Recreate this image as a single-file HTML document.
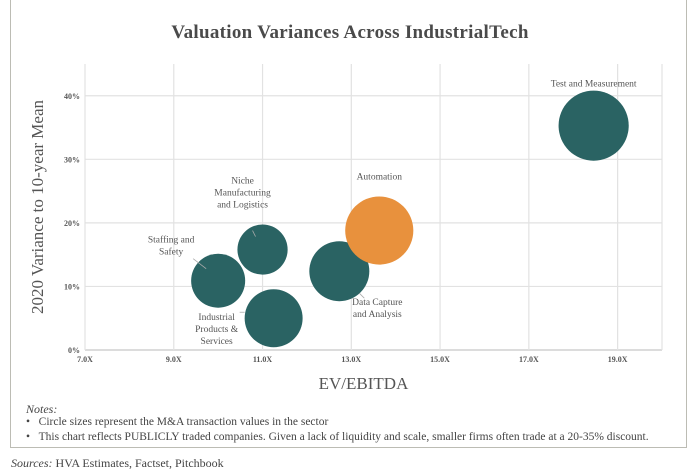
<!DOCTYPE html>
<html><head><meta charset="utf-8"><style>
body{margin:0;background:#fff;font-family:"Liberation Serif",serif;}
#wrap{position:relative;width:700px;height:474px;overflow:hidden;}
#frame{position:absolute;left:10px;top:-2px;width:677px;height:450px;border:1.5px solid #bcbcb4;box-sizing:border-box;}
.t{position:absolute;color:#444;}
</style></head><body>
<div id="wrap">
<div id="frame"></div>
<div class="t" style="left:0;width:700px;top:22px;text-align:center;font-size:19px;font-weight:bold;color:#4a4a4a;letter-spacing:0.3px">Valuation Variances Across IndustrialTech</div>
<svg id="chart" width="700" height="474" style="position:absolute;left:0;top:0"></svg>
<div class="t" style="left:26px;top:402px;font-size:12px;font-style:italic">Notes:</div>
<div class="t" style="left:26px;top:416px;font-size:11.5px">•&nbsp;&nbsp;&nbsp;Circle sizes represent the M&amp;A transaction values in the sector</div>
<div class="t" style="left:26px;top:431px;font-size:11.5px">•&nbsp;&nbsp;&nbsp;This chart reflects PUBLICLY traded companies. Given a lack of liquidity and scale, smaller firms often trade at a 20-35% discount.</div>
<div class="t" style="left:11px;top:456px;font-size:12px"><i>Sources:</i> HVA Estimates, Factset, Pitchbook</div>
</div>
<script>
const names=["Staffing and|Safety","Niche|Manufacturing|and Logistics","Industrial|Products &|Services","Data Capture|and Analysis","Automation","Test and Measurement"];
const evEbitda=[10.0,11.0,11.25,12.73,13.63,18.46];
const variance=[10.9,15.8,5.0,12.4,18.8,35.3];
const dealSize=[7.3,6.3,8.4,9.0,11.6,12.3];
const xTicks=[7,9,11,13,15,17,19];
const yTicks=[0,10,20,30,40];
const colors=["#2a6363","#2a6363","#2a6363","#2a6363","#e8913d","#2a6363"];
const NS="http://www.w3.org/2000/svg";
const svg=document.getElementById('chart');
const X0=85,X1=662,Y0=350,Y1=64,xmin=7,xmax=20,ymin=0,ymax=45;
const xs=v=>X0+(v-xmin)/(xmax-xmin)*(X1-X0);
const ys=v=>Y0-(v-ymin)/(ymax-ymin)*(Y0-Y1);
const rs=s=>10*Math.sqrt(s);
function mk(tag,at,txt){const e=document.createElementNS(NS,tag);for(const k in at)e.setAttribute(k,at[k]);if(txt!==undefined)e.textContent=txt;svg.appendChild(e);return e;}
yTicks.forEach(v=>{
 const l=mk('line',{x1:X0,x2:X1,y1:ys(v),y2:ys(v),stroke:v===0?'#c8c8c8':'#e2e2e2','stroke-width':1.2});
 
 
 const t=mk('text',{x:X0-5,y:ys(v)+3,'text-anchor':'end','font-size':8,'font-weight':'bold',fill:'#555'},v+'%');
 
 
});
xTicks.forEach(v=>{
 const l=mk('line',{x1:xs(v),x2:xs(v),y1:Y1,y2:Y0,stroke:'#e2e2e2','stroke-width':1.2});
 
 
 const t=mk('text',{x:xs(v),y:Y0+12,'text-anchor':'middle','font-size':8,'font-weight':'bold',fill:'#555'},v.toFixed(1)+'X');
 
 
});
const rl=mk('line',{x1:X1,x2:X1,y1:Y1,y2:Y0,stroke:'#e2e2e2','stroke-width':1.2});


const xt=mk('text',{x:(X0+X1)/2-10,y:389,'text-anchor':'middle','font-size':17,fill:'#555'},'EV/EBITDA');


const yt=mk('text',{x:0,y:0,'text-anchor':'middle','font-size':17,fill:'#555',transform:'translate(43,207) rotate(-90)'},'2020 Variance to 10-year Mean');


const lab=[{dx:-47,dy:-38,lead:[-25,-22,-12,-12]},{dx:-20,dy:-66,lead:[-10,-19,-7,-13]},{dx:-57,dy:2,lead:[-34,-6,-29,-6]},{dx:38,dy:34,lead:[20,22,25,27]},{dx:0,dy:-51,lead:null},{dx:0,dy:-39,lead:null}];
names.forEach((n,i)=>{
 const cx=xs(evEbitda[i]),cy=ys(variance[i]);
 const c=mk('circle',{cx:cx,cy:cy,r:rs(dealSize[i]),fill:colors[i]});
 
 
 const L=lab[i];
 if(L.lead){const ll=mk('line',{x1:cx+L.lead[0],y1:cy+L.lead[1],x2:cx+L.lead[2],y2:cy+L.lead[3],stroke:'#aaa','stroke-width':0.8});
  
  }
 n.split('|').forEach((s,j)=>{
  const t=mk('text',{x:cx+L.dx,y:cy+L.dy+j*12,'text-anchor':'middle','font-size':9.5,fill:'#555'},s);
  
  
 });
});
</script>
</body></html>
